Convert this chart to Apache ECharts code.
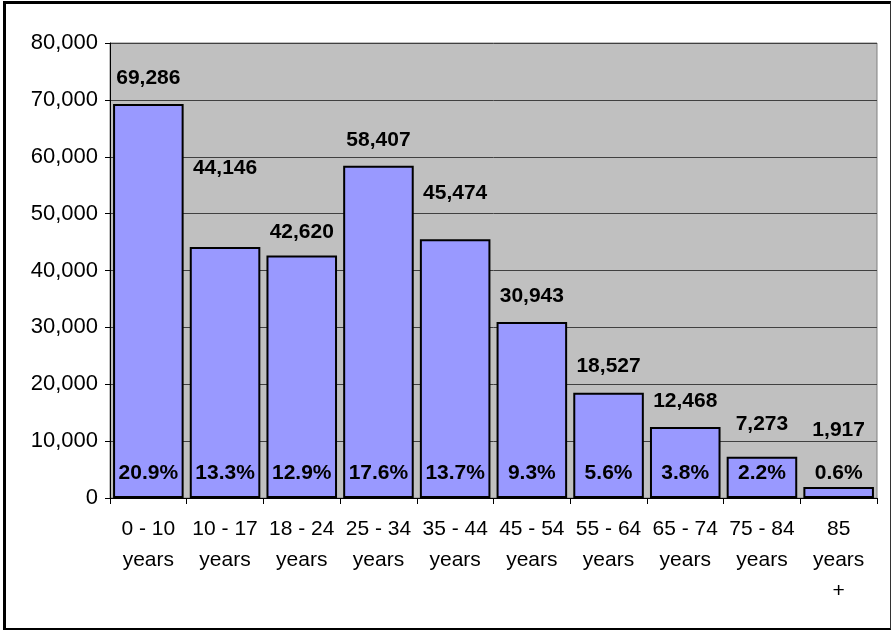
<!DOCTYPE html>
<html>
<head>
<meta charset="utf-8">
<script src="https://cdn.jsdelivr.net/npm/echarts@6/dist/echarts.min.js"></script>
<style>
  html, body { margin: 0; padding: 0; background: #ffffff; }
  #frame {
    position: absolute; left: 3px; top: 1px; width: 888px; height: 629px;
    border-left: 3px solid #000; border-top: 3px solid #000;
    border-right: 1px solid #333; border-bottom: 2px solid #000;
    box-sizing: border-box;
  }
  #chart { position: absolute; left: 0; top: 0; width: 895px; height: 633px; }
</style>
</head>
<body>
<div id="frame"></div>
<div id="chart"></div>
<script>
const categories = ['0 - 10\nyears', '10 - 17\nyears', '18 - 24\nyears', '25 - 34\nyears', '35 - 44\nyears',
                    '45 - 54\nyears', '55 - 64\nyears', '65 - 74\nyears', '75 - 84\nyears', '85\nyears\n+'];
const population = [69286, 44146, 42620, 58407, 45474, 30943, 18527, 12468, 7273, 1917];
const shares = [20.9, 13.3, 12.9, 17.6, 13.7, 9.3, 5.6, 3.8, 2.2, 0.6];
const yTicks = [0, 10000, 20000, 30000, 40000, 50000, 60000, 70000, 80000];

// label gaps above bars (styling, px)
const labelGap = [15, 68, 13, 15, 36, 15, 16, 15, 22, 46];

const FONT = '"Liberation Sans", Arial, sans-serif';
const chart = echarts.init(document.getElementById('chart'), null, { renderer: 'canvas' });

const fmt = v => v.toLocaleString('en-US');

chart.setOption({
  animation: false,
  backgroundColor: 'transparent',
  grid: {
    left: 110, right: 18, top: 43, bottom: 135,
    show: true, backgroundColor: '#C0C0C0', borderColor: '#808080', borderWidth: 1
  },
  xAxis: {
    type: 'category',
    data: categories,
    axisLine: { show: true, lineStyle: { color: '#000', width: 1 } },
    axisTick: { show: true, alignWithLabel: false, length: 6, lineStyle: { color: '#000' } },
    axisLabel: { color: '#000', fontFamily: FONT, fontSize: 21, lineHeight: 31, margin: 16, interval: 0 },
    splitLine: { show: false }
  },
  yAxis: {
    type: 'value',
    min: yTicks[0], max: yTicks[yTicks.length - 1], interval: yTicks[1] - yTicks[0],
    axisLine: { show: true, lineStyle: { color: '#000', width: 1 } },
    axisTick: { show: true, length: 5, lineStyle: { color: '#000' } },
    axisLabel: { color: '#000', fontFamily: FONT, fontSize: 22, margin: 12, formatter: v => fmt(v) },
    splitLine: { show: true, lineStyle: { color: '#404040', width: 1 } }
  },
  series: [
    {
      type: 'bar',
      data: population.map((v, i) => ({
        value: v,
        label: { distance: labelGap[i] }
      })),
      barCategoryGap: '8%',
      itemStyle: { color: '#9999FF', borderColor: '#000', borderWidth: 2 },
      label: {
        show: true, position: 'top', color: '#000', fontFamily: FONT, fontSize: 21, fontWeight: 'bold',
        formatter: p => fmt(p.value)
      },
      z: 2
    },
    {
      type: 'bar',
      data: population,
      barGap: '-100%',
      barCategoryGap: '8%',
      silent: true,
      itemStyle: { color: 'rgba(0,0,0,0)', borderWidth: 0 },
      label: {
        show: true, position: 'insideBottom', distance: 14, color: '#000', fontFamily: FONT,
        fontSize: 21, fontWeight: 'bold',
        formatter: p => shares[p.dataIndex].toFixed(1) + '%'
      },
      z: 3
    }
  ]
});
</script>
</body>
</html>
